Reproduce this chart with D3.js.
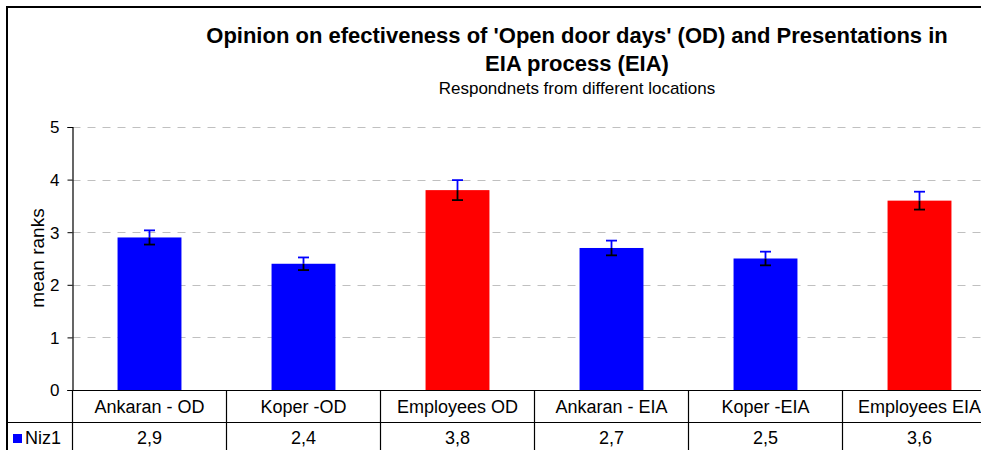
<!DOCTYPE html>
<html>
<head>
<meta charset="utf-8">
<script src="https://cdn.jsdelivr.net/npm/d3@7"></script>
<style>
  body { margin: 0; background: #fff; }
  svg text { font-family: "Liberation Sans", Arial, sans-serif; fill: #000; }
</style>
</head>
<body>
<div id="chart"></div>
<script>
// chart values
var categories = ["Ankaran - OD", "Koper -OD", "Employees OD", "Ankaran - EIA", "Koper -EIA", "Employees EIA"];
var values = [2.9, 2.4, 3.8, 2.7, 2.5, 3.6];
var errors = [0.135, 0.12, 0.19, 0.14, 0.13, 0.17];
var groups = ["loc", "loc", "emp", "loc", "loc", "emp"];
var valueLabels = ["2,9", "2,4", "3,8", "2,7", "2,5", "3,6"];
var yTicks = [0, 1, 2, 3, 4, 5];
var seriesName = "Niz1";

var width = 981;
var height = 450;

var svg = d3.select("#chart")
            .append("svg")
            .attr("width", width)
            .attr("height", height);

var plotLeft = 72.5, plotRight = 996.5, plotTop = 127, plotBottom = 390;

var x = d3.scaleBand()
          .domain(categories)
          .range([plotLeft, plotRight])
          .paddingInner(0)
          .paddingOuter(0);

var y = d3.scaleLinear()
          .domain([0, 5])
          .range([plotBottom, plotTop]);

var color = d3.scaleOrdinal()
              .domain(["loc", "emp"])
              .range(["#0000ff", "#ff0000"]);

// outer frame
svg.append("path")
   .attr("d", "M7,450 V7 H981")
   .attr("fill", "none")
   .attr("stroke", "#000")
   .attr("stroke-width", 2);

// gridlines
svg.append("g")
   .selectAll("line")
   .data(yTicks.filter(function(d) { return d > 0; }))
   .enter()
   .append("line")
   .attr("x1", plotLeft)
   .attr("x2", width)
   .attr("y1", function(d) { return Math.round(y(d)) + 0.5; })
   .attr("y2", function(d) { return Math.round(y(d)) + 0.5; })
   .attr("stroke", "#c0c0c0")
   .attr("stroke-dasharray", "8,7");

// y axis
var yAxis = d3.axisLeft(y).tickValues(yTicks).tickFormat(d3.format("d")).tickSize(5).tickPadding(8);
var yg = svg.append("g")
            .attr("transform", "translate(" + plotLeft + ",0)")
            .call(yAxis);
yg.select(".domain").attr("stroke", "#000").attr("stroke-width", 1.2);
yg.selectAll(".tick line").attr("stroke", "#000");
yg.selectAll(".tick text").style("font-size", "17px").attr("dy", "0.35em");

svg.append("text")
   .attr("transform", "translate(44,258) rotate(-90)")
   .attr("text-anchor", "middle")
   .style("font-size", "19px")
   .text("mean ranks");

// bars
var bw = x.bandwidth() * 0.415;
svg.append("g")
   .selectAll("rect")
   .data(values)
   .enter()
   .append("rect")
   .attr("x", function(d, i) { return x(categories[i]) + x.bandwidth() / 2 - bw / 2; })
   .attr("y", function(d) { return y(d); })
   .attr("width", bw)
   .attr("height", function(d) { return y(0) - y(d); })
   .attr("fill", function(d, i) { return color(groups[i]); });

// error bars: upper half blue, lower half black
var eb = svg.append("g")
            .selectAll("g")
            .data(values)
            .enter()
            .append("g")
            .attr("transform", function(d, i) { return "translate(" + (x(categories[i]) + x.bandwidth() / 2) + ",0)"; });

eb.append("line")
  .attr("x1", 0).attr("x2", 0)
  .attr("y1", function(d) { return y(d); })
  .attr("y2", function(d, i) { return y(d + errors[i]); })
  .attr("stroke", "#0000ff").attr("stroke-width", 1.8);
eb.append("line")
  .attr("x1", -5.5).attr("x2", 5.5)
  .attr("y1", function(d, i) { return y(d + errors[i]); })
  .attr("y2", function(d, i) { return y(d + errors[i]); })
  .attr("stroke", "#0000ff").attr("stroke-width", 1.8);
eb.append("line")
  .attr("x1", 0).attr("x2", 0)
  .attr("y1", function(d) { return y(d); })
  .attr("y2", function(d, i) { return y(d - errors[i]); })
  .attr("stroke", "#000").attr("stroke-width", 1.8);
eb.append("line")
  .attr("x1", -5.5).attr("x2", 5.5)
  .attr("y1", function(d, i) { return y(d - errors[i]); })
  .attr("y2", function(d, i) { return y(d - errors[i]); })
  .attr("stroke", "#000").attr("stroke-width", 1.8);

// data table
var rowLine = 422.5;
svg.append("line")
   .attr("x1", plotLeft - 5).attr("x2", width)
   .attr("y1", plotBottom + 0.5).attr("y2", plotBottom + 0.5)
   .attr("stroke", "#000").attr("stroke-width", 1.2);
svg.append("line")
   .attr("x1", 7).attr("x2", width)
   .attr("y1", rowLine).attr("y2", rowLine)
   .attr("stroke", "#000").attr("stroke-width", 1.2);

svg.append("g")
   .selectAll("line")
   .data(categories)
   .enter()
   .append("line")
   .attr("x1", function(d) { return x(d); })
   .attr("x2", function(d) { return x(d); })
   .attr("y1", plotBottom)
   .attr("y2", height)
   .attr("stroke", "#000").attr("stroke-width", 1.2);

svg.append("g")
   .selectAll("text")
   .data(categories)
   .enter()
   .append("text")
   .attr("x", function(d) { return x(d) + x.bandwidth() / 2; })
   .attr("y", 413)
   .attr("text-anchor", "middle")
   .style("font-size", "18px")
   .text(function(d) { return d; });

svg.append("g")
   .selectAll("text")
   .data(valueLabels)
   .enter()
   .append("text")
   .attr("x", function(d, i) { return x(categories[i]) + x.bandwidth() / 2; })
   .attr("y", 444)
   .attr("text-anchor", "middle")
   .style("font-size", "18px")
   .text(function(d) { return d; });

// legend key
svg.append("rect")
   .attr("x", 13).attr("y", 434)
   .attr("width", 9).attr("height", 9)
   .attr("fill", "#0000ff");
svg.append("text")
   .attr("x", 25).attr("y", 444)
   .style("font-size", "18px")
   .text(seriesName);

// titles
svg.append("text")
   .attr("x", 577).attr("y", 43)
   .attr("text-anchor", "middle")
   .style("font-size", "22px")
   .style("font-weight", "bold")
   .text("Opinion on efectiveness of 'Open door days' (OD) and Presentations in");
svg.append("text")
   .attr("x", 577).attr("y", 71)
   .attr("text-anchor", "middle")
   .style("font-size", "22px")
   .style("font-weight", "bold")
   .text("EIA process (EIA)");
svg.append("text")
   .attr("x", 577).attr("y", 94)
   .attr("text-anchor", "middle")
   .style("font-size", "17px")
   .text("Respondnets from different locations");
</script>
</body>
</html>
